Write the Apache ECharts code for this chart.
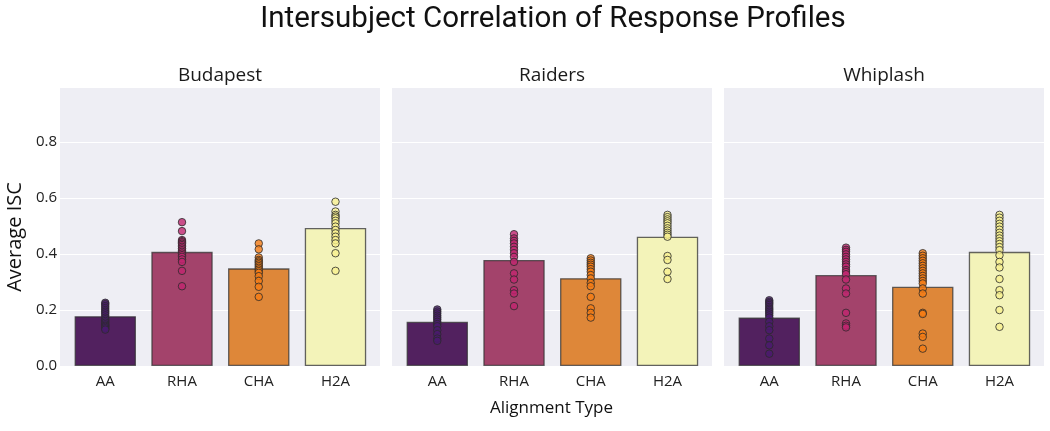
<!DOCTYPE html>
<html>
<head>
<meta charset="utf-8">
<script src="https://cdn.jsdelivr.net/npm/echarts@6/dist/echarts.min.js"></script>
<style>
html,body{margin:0;padding:0;background:#fff;}
#c{width:1050px;height:431px;}
</style>
</head>
<body>
<div id="c"></div>
<script>
const mainTitle = 'Intersubject Correlation of Response Profiles';
const movies = ['Budapest', 'Raiders', 'Whiplash'];
const categories = ['AA', 'RHA', 'CHA', 'H2A'];
const yTicks = [0, 0.2, 0.4, 0.6, 0.8];
const xLabel = 'Alignment Type';
const yLabel = 'Average ISC';

const budapestMeans = [0.178, 0.408, 0.349, 0.493];
const raidersMeans = [0.158, 0.379, 0.314, 0.462];
const whiplashMeans = [0.173, 0.325, 0.283, 0.408];

const budapestAA = [0.226,0.221,0.214,0.207,0.200,0.194,0.188,0.181,0.173,0.167,0.161,0.155,0.149,0.144,0.140,0.135,0.130];
const budapestRHA = [0.514,0.482,0.450,0.446,0.442,0.437,0.432,0.426,0.420,0.414,0.408,0.402,0.396,0.390,0.381,0.372,0.340,0.285];
const budapestCHA = [0.438,0.417,0.388,0.379,0.374,0.369,0.363,0.357,0.351,0.345,0.339,0.333,0.321,0.304,0.283,0.247];
const budapestH2A = [0.587,0.552,0.540,0.534,0.528,0.519,0.510,0.498,0.486,0.474,0.462,0.450,0.438,0.403,0.340];

const raidersAA = [0.202,0.195,0.188,0.180,0.173,0.166,0.158,0.150,0.142,0.128,0.114,0.098,0.090];
const raidersRHA = [0.471,0.456,0.447,0.438,0.426,0.415,0.403,0.390,0.372,0.331,0.309,0.271,0.259,0.214];
const raidersCHA = [0.385,0.377,0.369,0.362,0.355,0.346,0.337,0.325,0.313,0.297,0.285,0.247,0.206,0.190,0.173];
const raidersH2A = [0.540,0.532,0.524,0.517,0.510,0.501,0.492,0.484,0.476,0.469,0.462,0.393,0.379,0.337,0.311];

const whiplashAA = [0.235,0.229,0.224,0.218,0.211,0.205,0.200,0.194,0.188,0.181,0.173,0.158,0.142,0.128,0.098,0.074,0.044];
const whiplashRHA = [0.423,0.415,0.408,0.399,0.390,0.381,0.372,0.363,0.355,0.343,0.336,0.328,0.309,0.277,0.259,0.190,0.152,0.144,0.138];
const whiplashCHA = [0.403,0.394,0.385,0.376,0.367,0.358,0.349,0.340,0.331,0.322,0.313,0.304,0.295,0.277,0.259,0.190,0.186,0.116,0.104,0.062];
const whiplashH2A = [0.540,0.530,0.519,0.508,0.498,0.487,0.476,0.466,0.456,0.446,0.436,0.425,0.414,0.396,0.372,0.352,0.311,0.271,0.253,0.200,0.140];

const panelMeans = [budapestMeans, raidersMeans, whiplashMeans];
const panelPoints = [
  [budapestAA, budapestRHA, budapestCHA, budapestH2A],
  [raidersAA, raidersRHA, raidersCHA, raidersH2A],
  [whiplashAA, whiplashRHA, whiplashCHA, whiplashH2A]
];

// styles
const barColors = ['#52215f', '#a3436b', '#de8739', '#f3f3b9'];
const dotColors = ['#4a1a6e', '#c0266f', '#f57c14', '#f7f08f'];
const gridLefts = [60, 392, 724];
const gridWidth = 320;
const gridTop = 87;
const gridHeight = 279;

const chart = echarts.init(document.getElementById('c'), null, {renderer: 'canvas'});

const grids = [], xAxes = [], yAxes = [], series = [], titles = [];
titles.push({
  text: mainTitle, left: 553, textAlign: 'center', top: 5, padding: 0,
  textStyle: {fontFamily: 'Roboto', fontSize: 29.5, fontWeight: 'normal', color: '#111'}
});
movies.forEach((m, p) => {
  grids.push({left: gridLefts[p], top: gridTop, width: gridWidth, height: gridHeight,
    show: true, backgroundColor: '#eeeef4', borderWidth: 0});
  titles.push({
    text: m, left: gridLefts[p] + gridWidth / 2, top: 66, padding: 0, textAlign: 'center',
    textStyle: {fontFamily: 'Open Sans', fontSize: 19, fontWeight: 'normal', color: '#1a1a1a'}
  });
  xAxes.push({
    type: 'value', gridIndex: p, min: -0.59, max: 3.58,
    axisLine: {show: false}, axisTick: {show: false}, splitLine: {show: false},
    axisLabel: {
      customValues: categories.map((c, i) => i),
      formatter: v => categories[Math.round(v)] || '',
      fontFamily: 'Open Sans', fontSize: 15, color: '#222', margin: 8
    }
  });
  yAxes.push({
    type: 'value', gridIndex: p, min: 0, max: 0.997, interval: 0.2,
    axisLine: {show: false}, axisTick: {show: false},
    splitLine: {show: true, lineStyle: {color: '#ffffff', width: 1.2}},
    axisLabel: {
      show: p === 0,
      customValues: yTicks,
      formatter: v => v.toFixed(1),
      fontFamily: 'Open Sans', fontSize: 15, color: '#222', margin: 3
    }
  });
  series.push({
    type: 'bar', xAxisIndex: p, yAxisIndex: p, barWidth: '80%', z: 2,
    data: panelMeans[p].map((v, i) => ({
      value: [i, v],
      itemStyle: {color: barColors[i], borderColor: 'rgba(50,50,50,0.75)', borderWidth: 1.3}
    }))
  });
  const pts = [];
  panelPoints[p].forEach((arr, i) => arr.forEach(v => pts.push({
    value: [i, v],
    itemStyle: {color: dotColors[i], borderColor: '#2a2a2a', borderWidth: 1}
  })));
  series.push({
    type: 'scatter', xAxisIndex: p, yAxisIndex: p, symbolSize: 7.5, z: 3,
    data: pts
  });
});

chart.setOption({
  animation: false,
  title: titles,
  grid: grids,
  xAxis: xAxes,
  yAxis: yAxes,
  series: series,
  graphic: [{
    type: 'text', left: 490, top: 400,
    style: {text: xLabel, fontFamily: 'Open Sans', fontSize: 17, fill: '#111'}
  }, {
    type: 'text', x: 15, y: 237, rotation: Math.PI / 2,
    style: {text: yLabel, fontFamily: 'Open Sans', fontSize: 20, fill: '#111',
      align: 'center', verticalAlign: 'middle'}
  }]
});
</script>
</body>
</html>
